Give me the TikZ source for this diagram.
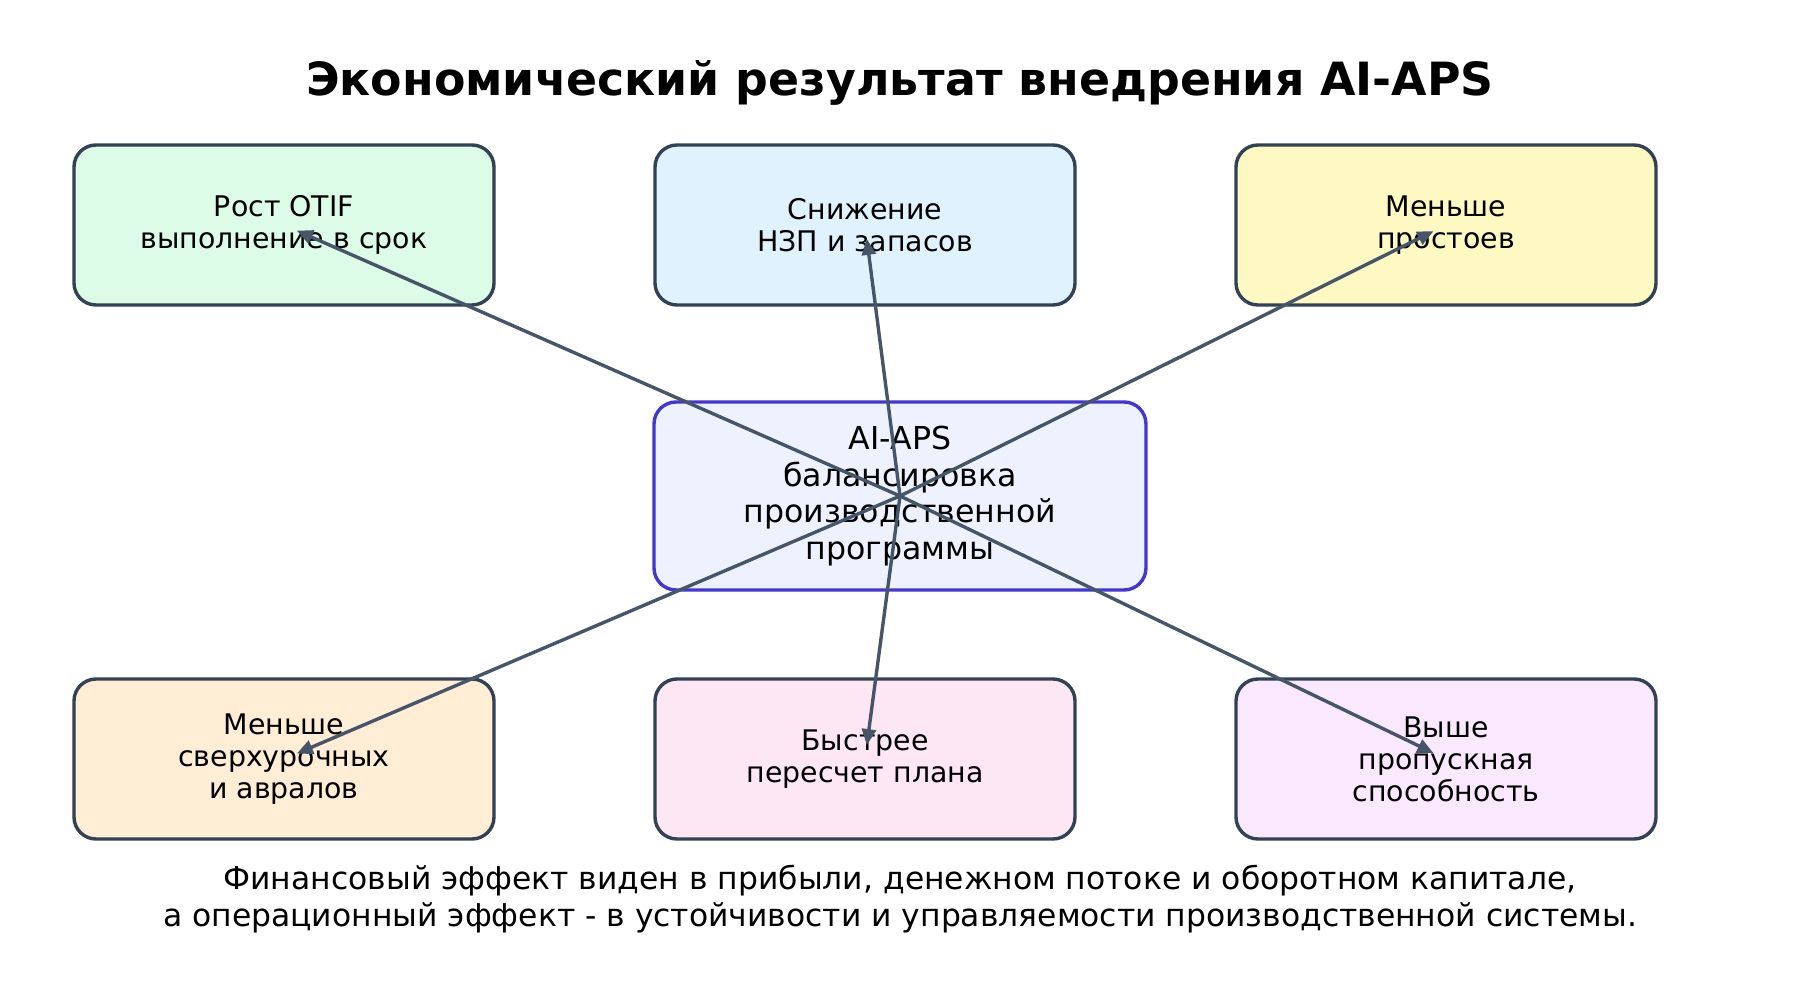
\documentclass[tikz,border=0pt]{standalone}
\usepackage{fontspec}
\setmainfont{DejaVu Sans}
\usetikzlibrary{arrows.meta}
\definecolor{edgegray}{HTML}{334155}
\definecolor{arrowgray}{HTML}{475569}
\definecolor{coreblue}{HTML}{4338CA}
\definecolor{corefill}{HTML}{EEF2FF}
\definecolor{greenfill}{HTML}{DCFCE7}
\definecolor{bluefill}{HTML}{E0F2FE}
\definecolor{yellowfill}{HTML}{FEF9C3}
\definecolor{orangefill}{HTML}{FFEDD5}
\definecolor{pinkfill}{HTML}{FCE7F3}
\definecolor{purplefill}{HTML}{FAE8FF}

\begin{document}
\begin{tikzpicture}[x=0.5pt,y=-0.5pt,
		effect/.style={draw=edgegray, line width=1.7pt, rounded corners=11pt, minimum width=210pt, minimum height=80pt, align=center, font=\fontsize{14.2}{16}\selectfont},
		core/.style={draw=coreblue, fill=corefill, line width=1.7pt, rounded corners=11pt, minimum width=246pt, minimum height=94pt, align=center, font=\fontsize{15.8}{18.2}\selectfont},
		link/.style={draw=arrowgray, line width=1.7pt, -{Triangle[length=8pt,width=7pt]}, shorten >=7pt}]
		\useasboundingbox (0,0) rectangle (1800,994);
		\node (title) at (900,83) {\fontsize{22.9}{27}\selectfont\bfseries Экономический результат внедрения AI-APS};
		\node[core] (aps) at (900,496) {AI-APS\\балансировка\\производственной\\программы};
		\node[effect, fill=greenfill] (otif) at (284,225) {Рост OTIF\\выполнение в срок};
		\node[effect, fill=bluefill] (wip) at (865,225) {Снижение\\НЗП и запасов};
		\node[effect, fill=yellowfill] (idle) at (1446,225) {Меньше\\простоев};
		\node[effect, fill=orangefill] (overtime) at (284,759) {Меньше\\сверхурочных\\и авралов};
		\node[effect, fill=pinkfill] (replan) at (865,759) {Быстрее\\пересчет плана};
		\node[effect, fill=purplefill] (thru) at (1446,759) {Выше\\пропускная\\способность};
		\foreach \t in {otif,wip,idle,overtime,replan,thru}
			\draw[link] (aps.center) -- (\t.center);
		\node[align=center, font=\fontsize{15.7}{18.4}\selectfont] (note) at (900,899) {Финансовый эффект виден в прибыли, денежном потоке и оборотном капитале,\\а операционный эффект - в устойчивости и управляемости производственной системы.};
	\end{tikzpicture}
\end{document}
